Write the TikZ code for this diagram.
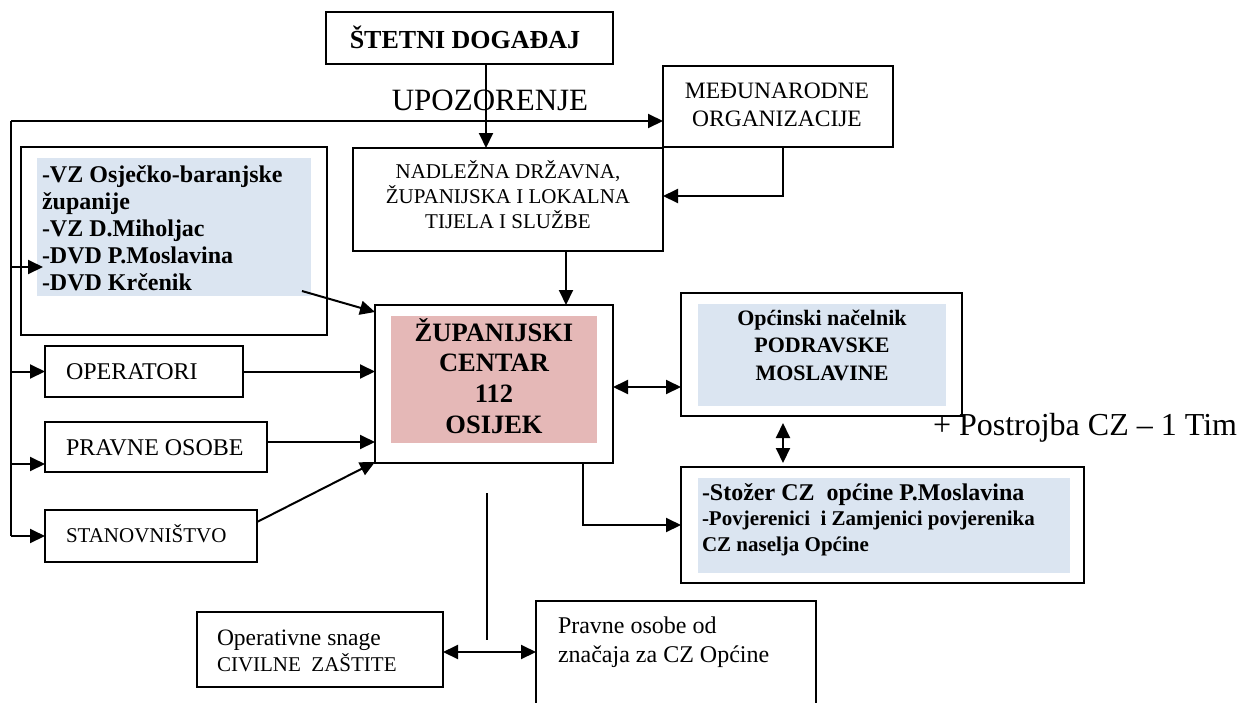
\documentclass[tikz,border=0pt]{standalone}
\usepackage{fontspec}
\setmainfont{Liberation Serif}
\usetikzlibrary{arrows.meta,fit}
\definecolor{lblue}{HTML}{DBE5F1}
\definecolor{lpink}{HTML}{E5B8B7}
\newcommand{\mytab}[2]{\begin{tabular}[t]{@{}#1@{}}#2\end{tabular}}
\begin{document}
\begin{tikzpicture}[x=1pt,y=-1pt,
 bx/.style={draw, line width=2pt, inner sep=0pt, outer sep=0pt},
 fillbx/.style={inner sep=0pt, outer sep=0pt},
 txt/.style={inner sep=0pt, outer sep=0pt},
 ln/.style={line width=2pt},
 arr/.style={line width=2pt, -{Triangle[length=15pt,width=14pt]}},
 darr/.style={line width=2pt, {Triangle[length=15pt,width=14pt]}-{Triangle[length=15pt,width=14pt]}},
]
\useasboundingbox (0,0) rectangle (1243,702);
\clip (0,0) rectangle (1243,702);
% boxes
\node[bx, fit={(326,12)(613,64)}] (stetni) {};
\node[bx, fit={(663,66)(893,147)}] (medj) {};
\node[bx, fit={(353,148)(663,251)}] (nadl) {};
\node[bx, fit={(21,147)(327,335)}] (vz) {};
\node[fillbx, fill=lblue, fit={(37,158)(311,296)}] (vzf) {};
\node[bx, fit={(45,346)(243,397)}] (oper) {};
\node[bx, fit={(45,422)(267,472)}] (pravne) {};
\node[bx, fit={(45,510)(257,562)}] (stan) {};
\node[bx, fit={(375,305)(613,463)}] (zup) {};
\node[fillbx, fill=lpink, fit={(391,316)(597,443)}] (zupf) {};
\node[bx, fit={(681,293)(962,416)}] (opc) {};
\node[fillbx, fill=lblue, fit={(698,304)(946,406)}] (opcf) {};
\node[bx, fit={(681,467)(1084,583)}] (stoz) {};
\node[fillbx, fill=lblue, fit={(698,478)(1070,573)}] (stozf) {};
\node[bx, fit={(197,612)(443,687)}] (opsn) {};
\node[bx, fit={(536,601)(816,720)}] (pravcz) {};
% texts
\node[txt, anchor=base, font=\fontsize{26}{30}\selectfont\bfseries] (t1) at (465,48) {ŠTETNI DOGAĐAJ};
\node[txt, anchor=base, font=\fontsize{31}{36}\selectfont] (t2) at (490,110) {UPOZORENJE};
\node[txt, anchor=base, font=\fontsize{23.5}{28}\selectfont] (t3) at (777,98) {\mytab{c}{MEĐUNARODNE\\ORGANIZACIJE}};
\node[txt, anchor=base, font=\fontsize{21}{24.5}\selectfont] (t4) at (508,178) {\mytab{c}{NADLEŽNA DRŽAVNA,\\ŽUPANIJSKA I LOKALNA\\TIJELA I SLUŽBE}};
\node[txt, anchor=base west, font=\fontsize{24}{27}\selectfont\bfseries] (t5) at (42,182) {\mytab{l}{-VZ Osječko-baranjske\\županije\\-VZ D.Miholjac\\-DVD P.Moslavina\\-DVD Krčenik}};
\node[txt, anchor=base west, font=\fontsize{24}{28}\selectfont] (t6) at (66,379) {OPERATORI};
\node[txt, anchor=base west, font=\fontsize{24}{28}\selectfont] (t7) at (66,455) {PRAVNE OSOBE};
\node[txt, anchor=base west, font=\fontsize{21}{25}\selectfont] (t8) at (66,542) {STANOVNIŠTVO};
\node[txt, anchor=base, font=\fontsize{26.5}{30.7}\selectfont\bfseries] (t9) at (494,341) {\mytab{c}{ŽUPANIJSKI\\CENTAR\\112\\OSIJEK}};
\node[txt, anchor=base, font=\fontsize{22}{27.5}\selectfont\bfseries] (t10) at (822,325) {\mytab{c}{Općinski načelnik\\PODRAVSKE\\MOSLAVINE}};
\node[txt, anchor=base west, font=\fontsize{32}{36}\selectfont] (t11) at (933,435) {+ Postrojba CZ – 1 Tim};
\node[txt, anchor=base west, font=\fontsize{21}{25.5}\selectfont\bfseries] (t12) at (702,500) {\mytab{l}{{\fontsize{24}{25.5}\selectfont -Stožer CZ~~općine P.Moslavina}\\-Povjerenici~~i Zamjenici povjerenika\\CZ naselja Općine}};
\node[txt, anchor=base west, font=\fontsize{21}{26.5}\selectfont] (t13) at (217,645) {\mytab{l}{{\fontsize{23.5}{26.5}\selectfont Operativne snage}\\CIVILNE~~ZAŠTITE}};
\node[txt, anchor=base west, font=\fontsize{24}{29}\selectfont] (t14) at (558,633) {\mytab{l}{Pravne osobe od\\značaja za CZ Općine}};
% connectors
\coordinate (tl) at (11,121);
\coordinate (bl) at (11,536);
\draw[ln] (bl) -- (tl);
\draw[arr] (tl) -- (tl -| medj.west);
\coordinate (sdown) at ([xshift=16.5pt]stetni.south);
\draw[arr] (sdown) -- (sdown |- nadl.north);
\coordinate (vzin) at (43,267);
\draw[arr] (vzin -| tl) -- (vzin);
\draw[arr] (oper.west -| tl) -- (oper.west);
\coordinate (pin) at ([yshift=-17pt]pravne.west);
\draw[arr] (pin -| tl) -- (pin);
\draw[arr] (bl) -- (bl -| stan.west);
\coordinate (vzout) at (302,291);
\coordinate (zupin) at ([yshift=-7pt]zup.north west);
\draw[arr] (vzout) -- (zupin);
\draw[arr] (oper.east) -- (oper.east -| zup.west);
\coordinate (pout) at ([yshift=5pt]pravne.east);
\draw[arr] (pout) -- (pout -| zup.west);
\coordinate (sout) at ([yshift=-12pt]stan.north east);
\coordinate (zupsw) at ([yshift=1pt]zup.south west);
\draw[arr] (sout) -- (zupsw);
\coordinate (nout) at ([xshift=58pt]nadl.south);
\draw[arr] (nout) -- (nout |- zup.north);
\coordinate (mout) at ([xshift=5pt]medj.south);
\coordinate (nin) at ([yshift=3.5pt]nadl.east);
\draw[arr] (mout) |- (nin);
\coordinate (zo) at ([yshift=-3pt]zup.east);
\draw[darr] (zo) -- (zo -| opc.west);
\coordinate (ov) at ([xshift=-38.5pt]opc.south);
\draw[darr, shorten <=7pt, shorten >=4pt] (ov) -- (ov |- stoz.north);
\coordinate (zs) at ([xshift=89pt]zup.south);
\draw[arr] (zs) |- (stoz.west);
\coordinate (vl1) at (487,493);
\coordinate (vl2) at (487,640);
\draw[ln] (vl1) -- (vl2);
\coordinate (oo) at ([yshift=-2.5pt]opsn.east);
\draw[darr] (oo) -- (oo -| pravcz.west);
\end{tikzpicture}
\end{document}
